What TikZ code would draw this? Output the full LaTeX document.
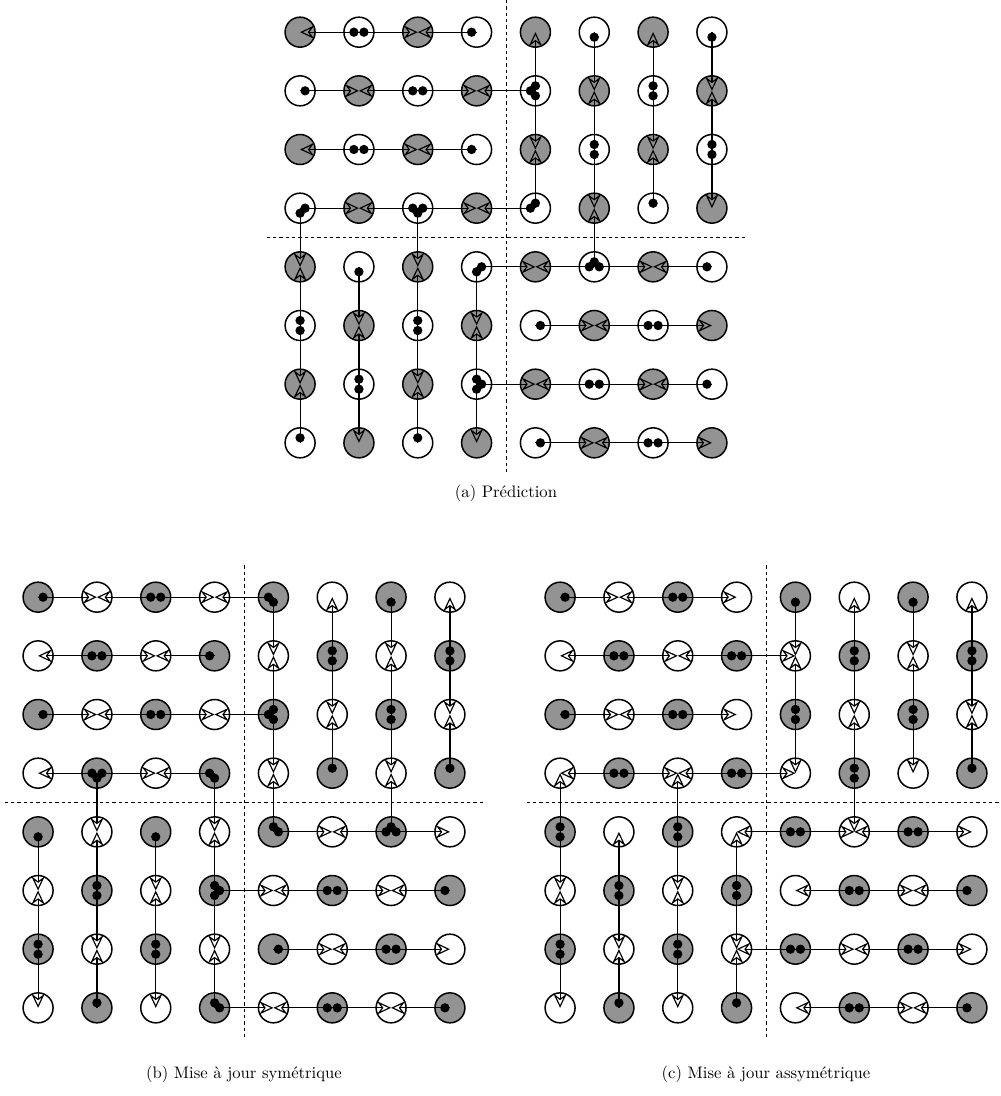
\documentclass[tikz,border=0pt]{standalone}
\usepackage{fontspec}
\usetikzlibrary{arrows.meta,calc,matrix}

\begin{document}
\begin{tikzpicture}[
  site/.style={draw, circle, line width=0.9pt, fill=white, minimum size=18pt, inner sep=0pt, outer sep=0pt},
  full/.style={site, fill=gray!85},
  board/.style={matrix of nodes, nodes in empty cells, nodes={site},
    column sep={35.3pt,between origins}, row sep={35.2pt,between origins}},
  link/.style={line width=0.7pt, -{Stealth[open, length=8.5pt, width=8pt, inset=3pt]}},
  part/.style={dash pattern=on 2pt off 1.8pt, line width=0.4pt}
]
\useasboundingbox (0,0) rectangle (600pt,-657.6pt);

% (a) prediction
\matrix (pa) [board] at (303.6pt,-142.5pt) {
  |[full]| & & |[full]| & & |[full]| & & |[full]| & \\
  & |[full]| & & |[full]| & & |[full]| & & |[full]| \\
  |[full]| & & |[full]| & & |[full]| & & |[full]| & \\
  & |[full]| & & |[full]| & & |[full]| & & |[full]| \\
  |[full]| & & |[full]| & & |[full]| & & |[full]| & \\
  & |[full]| & & |[full]| & & |[full]| & & |[full]| \\
  |[full]| & & |[full]| & & |[full]| & & |[full]| & \\
  & |[full]| & & |[full]| & & |[full]| & & |[full]| \\
};

% (b) symmetric update
\matrix (pb) [board] at (146.4pt,-481.5pt) {
  |[full]| & & |[full]| & & |[full]| & & |[full]| & \\
  & |[full]| & & |[full]| & & |[full]| & & |[full]| \\
  |[full]| & & |[full]| & & |[full]| & & |[full]| & \\
  & |[full]| & & |[full]| & & |[full]| & & |[full]| \\
  |[full]| & & |[full]| & & |[full]| & & |[full]| & \\
  & |[full]| & & |[full]| & & |[full]| & & |[full]| \\
  |[full]| & & |[full]| & & |[full]| & & |[full]| & \\
  & |[full]| & & |[full]| & & |[full]| & & |[full]| \\
};

% (c) asymmetric update
\matrix (pc) [board] at (459.6pt,-481.5pt) {
  |[full]| & & |[full]| & & |[full]| & & |[full]| & \\
  & |[full]| & & |[full]| & & |[full]| & & |[full]| \\
  |[full]| & & |[full]| & & |[full]| & & |[full]| & \\
  & |[full]| & & |[full]| & & |[full]| & & |[full]| \\
  |[full]| & & |[full]| & & |[full]| & & |[full]| & \\
  & |[full]| & & |[full]| & & |[full]| & & |[full]| \\
  |[full]| & & |[full]| & & |[full]| & & |[full]| & \\
  & |[full]| & & |[full]| & & |[full]| & & |[full]| \\
};

% quarter boundaries
\foreach \m in {pa,pb,pc} {
  \draw[part] ($(\m-1-4.center)!0.5!(\m-1-5.center)+(0,19.2pt)$) -- ($(\m-8-4.center)!0.5!(\m-8-5.center)-(0,19.2pt)$);
  \draw[part] ($(\m-4-1.center)!0.5!(\m-5-1.center)-(20pt,0)$) -- ($(\m-4-8.center)!0.5!(\m-5-8.center)+(20pt,0)$);
}

% links inside the quarters: grey/white
\foreach \g/\w in {1-1/1-2, 1-3/1-2, 1-3/1-4, 2-2/2-1, 2-2/2-3, 2-4/2-3,
    3-1/3-2, 3-3/3-2, 3-3/3-4, 4-2/4-1, 4-2/4-3, 4-4/4-3,
    1-5/2-5, 3-5/2-5, 3-5/4-5, 2-6/1-6, 2-6/3-6, 4-6/3-6,
    1-7/2-7, 3-7/2-7, 3-7/4-7, 2-8/1-8, 2-8/3-8, 4-8/3-8,
    5-1/6-1, 7-1/6-1, 7-1/8-1, 6-2/5-2, 6-2/7-2, 8-2/7-2,
    5-3/6-3, 7-3/6-3, 7-3/8-3, 6-4/5-4, 6-4/7-4, 8-4/7-4,
    5-5/5-6, 5-7/5-6, 5-7/5-8, 6-6/6-5, 6-6/6-7, 6-8/6-7,
    7-5/7-6, 7-7/7-6, 7-7/7-8, 8-6/8-5, 8-6/8-7, 8-8/8-7} {
  \draw[link] (pa-\w.center) -- (pa-\g.center);
  \fill ($(pa-\w.center)!3pt!(pa-\g.center)$) circle (2.8pt);
  \foreach \m in {pb,pc} {
    \draw[link] (\m-\g.center) -- (\m-\w.center);
    \fill ($(\m-\g.center)!3pt!(\m-\w.center)$) circle (2.8pt);
  }
}

% links across the quarters: from/to
\foreach \m/\s/\t in {pa/2-5/2-4, pa/4-5/4-4, pa/4-1/5-1, pa/4-3/5-3, pa/5-6/4-6, pa/5-4/5-5, pa/7-4/7-5,
    pb/1-5/1-4, pb/3-5/3-4, pb/4-2/5-2, pb/4-4/5-4, pb/5-5/4-5, pb/5-7/4-7, pb/6-4/6-5, pb/8-4/8-5,
    pc/2-4/2-5, pc/4-4/4-5, pc/5-1/4-1, pc/5-3/4-3, pc/4-6/5-6, pc/5-5/5-4, pc/7-5/7-4} {
  \draw[link] (\m-\s.center) -- (\m-\t.center);
  \fill ($(\m-\s.center)!3pt!(\m-\t.center)$) circle (2.8pt);
}

\node (capa) at ($(pa-8-4.center)!0.5!(pa-8-5.center)-(0,30pt)$) {(a) Prédiction};
\node (capb) at ($(pb-8-4.center)!0.5!(pb-8-5.center)-(0,40pt)$) {(b) Mise à jour symétrique};
\node (capc) at ($(pc-8-4.center)!0.5!(pc-8-5.center)-(0,40pt)$) {(c) Mise à jour assymétrique};

\end{tikzpicture}
\end{document}
